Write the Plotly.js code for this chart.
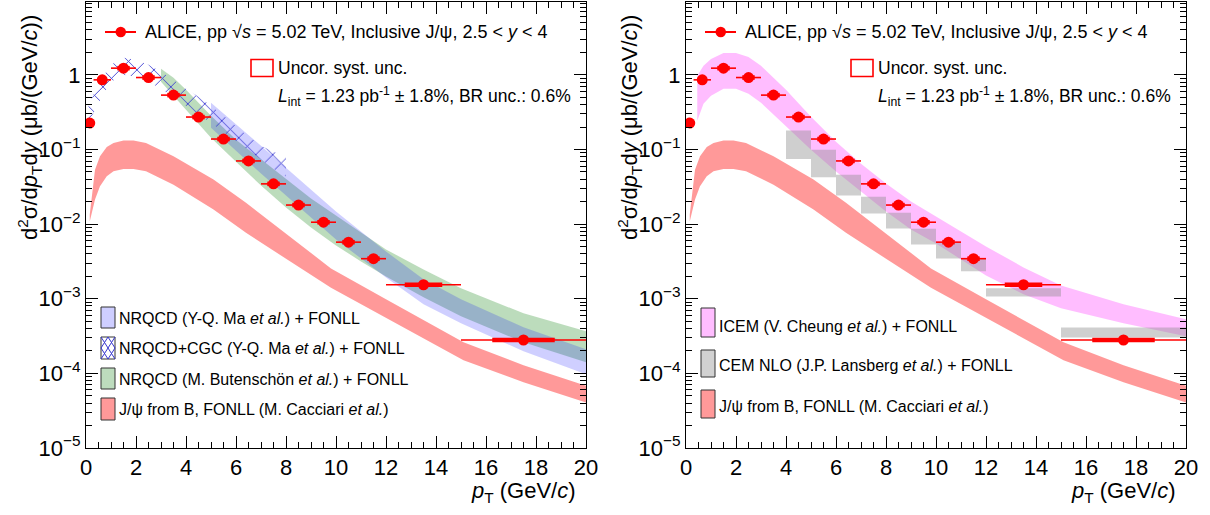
<!DOCTYPE html>
<html><head><meta charset="utf-8">
<script src="https://cdn.plot.ly/plotly-3.0.1.min.js"></script>
<style>html,body{margin:0;padding:0;background:#fff}</style>
</head><body><div id="chart" style="width:1210px;height:515px"></div>
<script>
// ---------------- data ----------------
const alicePt     = [0.15,0.65,1.5,2.5,3.5,4.5,5.5,6.5,7.5,8.5,9.5,10.5,11.5,13.5,17.5];
const aliceBinLo  = [0,0.3,1,2,3,4,5,6,7,8,9,10,11,12,15];
const aliceBinHi  = [0.3,1,2,3,4,5,6,7,8,9,10,11,12,15,20];
const aliceSigma  = [0.226,0.857,1.229,0.920,0.535,0.272,0.138,0.0702,0.0346,0.0180,0.0106,0.00573,0.00344,0.00154,0.000280];

// J/psi from B, FONLL (Cacciari)
const fonllPt = [0.15,0.36,0.56,0.83,1.1,1.5,1.9,2.4,3.5,5.1,6.4,7.8,9.8,12,15.1,17.5,20];
const fonllHi = [0.01343,0.0537,0.0809,0.108,0.122,0.132,0.132,0.122,0.0809,0.0395,0.01927,0.00847,0.00255,0.000982,0.000261,0.0001288,0.0000681];
const fonllLo = [0.01083,0.0213,0.0321,0.0437,0.0509,0.0548,0.0548,0.0509,0.0338,0.01567,0.00765,0.00380,0.001407,0.000564,0.000150,0.0000762,0.0000408];

// NRQCD (Y-Q. Ma) + FONLL
const maPt = [5,6,7,8,9,10,11,12,13.5,15,17.5,20];
const maHi = [0.422,0.221,0.1124,0.0571,0.0290,0.01473,0.00796,0.00430,0.00182,0.000982,0.000415,0.000211];
const maLo = [0.1956,0.0964,0.0475,0.0241,0.01225,0.00622,0.00347,0.00193,0.000841,0.000469,0.000198,0.0000976];

// NRQCD+CGC (Y-Q. Ma) + FONLL
const cgcPt = [0.1,0.3,0.65,1,1.5,2,2.5,3,3.5,4,4.5,5,5.5,6,6.5,7,7.5,8];
const cgcHi = [0.385,0.540,0.912,1.360,1.688,1.587,1.360,1.097,0.857,0.650,0.508,0.385,0.283,0.202,0.148,0.1124,0.0935,0.0801];
const cgcLo = [0.228,0.310,0.524,0.806,1.0,0.940,0.806,0.650,0.493,0.385,0.292,0.228,0.173,0.131,0.0994,0.0731,0.0553,0.0433];

// NRQCD (M. Butenschoen) + FONLL
const butPt = [3,3.5,4,5,6,7,8,9,10,11,12,13.5,15,17.5,20];
const butHi = [1.203,0.912,0.630,0.283,0.135,0.0731,0.0395,0.0220,0.01303,0.00772,0.00457,0.00247,0.001377,0.000638,0.000366];
const butLo = [0.806,0.524,0.340,0.144,0.0687,0.0328,0.01667,0.00901,0.00518,0.00316,0.00199,0.001045,0.000582,0.000261,0.0001412];

// ICEM (V. Cheung) + FONLL
const icemPt = [0.45,0.7,1,1.5,2,2.5,3,3.5,4,5,6,7,8,9,10,11,12,13.5,15,17.5,20];
const icemHi = [0.970,1.319,1.636,1.968,1.968,1.740,1.319,0.912,0.630,0.2745,0.1272,0.0646,0.0349,0.02005,0.01264,0.00796,0.00502,0.00263,0.00151,0.000841,0.000531];
const icemLo = [0.243,0.409,0.524,0.650,0.650,0.557,0.422,0.301,0.208,0.0994,0.0505,0.0273,0.01473,0.00847,0.00551,0.00336,0.002055,0.001145,0.000745,0.000469,0.000314];

// CEM NLO (J.P. Lansberg) + FONLL, per bin
const cemBinLo = [4,5,6,7,8,9,10,11,12,15];
const cemBinHi = [5,6,7,8,9,10,11,12,15,20];
const cemHi = [0.180,0.0994,0.0460,0.0232,0.01416,0.00865,0.00562,0.00347,0.00138,0.000411];
const cemLo = [0.0746,0.0424,0.0241,0.01386,0.00873,0.00533,0.00347,0.00234,0.00107,0.000302];

// tick labels
const yTickVals = [1e-5,1e-4,1e-3,1e-2,1e-1,1];
const yTickText = ['10<sup>\u22125</sup>','10<sup>\u22124</sup>','10<sup>\u22123</sup>','10<sup>\u22122</sup>','10<sup>\u22121</sup>','1'];
const xTickVals = [0,2,4,6,8,10,12,14,16,18,20];

// ---------------- helpers ----------------
const W = 1210, H = 515;
const FONT = 'Liberation Sans, Arial, Helvetica, sans-serif';
const px = v => v / W;
const py = v => 1 - v / H;

function band(xs, lo, hi) {
  return { x: xs.concat(xs.slice().reverse()), y: hi.concat(lo.slice().reverse()) };
}
function boxes(xlo, xhi, lo, hi) {
  const x = [], y = [];
  for (let i = 0; i < xlo.length; i++) {
    x.push(xlo[i], xhi[i], xhi[i], xlo[i], xlo[i], null);
    y.push(lo[i], lo[i], hi[i], hi[i], lo[i], null);
  }
  return { x, y };
}
function bandTrace(b, color, xa, ya, extra) {
  return Object.assign({ type:'scatter', mode:'lines', x:b.x, y:b.y, fill:'toself',
    fillcolor:color, line:{width:0, color:color}, hoverinfo:'skip', showlegend:false,
    xaxis:xa, yaxis:ya }, extra || {});
}
const halfBin = aliceBinHi.map((h,i) => (h - aliceBinLo[i]) / 2);
const systHalf = aliceBinHi.map((h,i) => (h - aliceBinLo[i]) / 4);

function aliceTraces(xa, ya) {
  return [
    { type:'scatter', mode:'markers', x:alicePt, y:aliceSigma, xaxis:xa, yaxis:ya,
      marker:{size:1, color:'rgba(255,0,0,0)'}, hoverinfo:'skip', showlegend:false,
      error_x:{type:'data', array:systHalf, symmetric:true, color:'#ff0000', thickness:4.5, width:0} },
    { type:'scatter', mode:'markers', x:alicePt, y:aliceSigma, xaxis:xa, yaxis:ya,
      marker:{size:11, color:'#ff0000'}, hoverinfo:'skip', showlegend:false,
      error_x:{type:'data', array:halfBin, symmetric:true, color:'#ff0000', thickness:1.6, width:0} }
  ];
}

const cFonll = 'rgba(255,0,0,0.4)';
const cGreen = 'rgba(34,139,34,0.3)';
const cBlue  = 'rgba(0,0,255,0.19)';
const cPink  = 'rgba(255,0,255,0.26)';
const cGray  = 'rgba(140,140,140,0.42)';

const traces = [
  bandTrace(band(fonllPt, fonllLo, fonllHi), cFonll, 'x', 'y'),
  bandTrace(band(butPt, butLo, butHi), cGreen, 'x', 'y'),
  bandTrace(band(maPt, maLo, maHi), cBlue, 'x', 'y'),
  bandTrace(band(cgcPt, cgcLo, cgcHi), 'rgba(0,0,0,0)', 'x', 'y',
    { fillpattern:{shape:'x', fgcolor:'#3535d0', bgcolor:'rgba(0,0,0,0)', size:12, solidity:0.14, fgopacity:1} }),
  ...aliceTraces('x', 'y'),
  bandTrace(band(fonllPt, fonllLo, fonllHi), cFonll, 'x2', 'y2'),
  bandTrace(band(icemPt, icemLo, icemHi), cPink, 'x2', 'y2'),
  bandTrace(boxes(cemBinLo, cemBinHi, cemLo, cemHi), cGray, 'x2', 'y2'),
  ...aliceTraces('x2', 'y2')
];

// minor tick positions
const yMinor = [];
for (let d = -5; d <= 0; d++) for (let m = 2; m <= 9; m++) yMinor.push(m * Math.pow(10, d));

function xAxis(d0, d1, anchor) {
  return { domain:[px(d0), px(d1)], anchor:anchor, range:[0,20], showline:true, linecolor:'black', linewidth:1,
    mirror:'allticks', ticks:'inside', ticklen:12, tickwidth:1, tickcolor:'black',
    tickmode:'array', tickvals:xTickVals, ticktext:xTickVals.map(String),
    tickfont:{family:FONT, size:22, color:'black'}, showgrid:false, zeroline:false,
    minor:{ticks:'inside', ticklen:6, tickwidth:1, tickcolor:'black', dtick:0.5, tick0:0, showgrid:false} };
}
function yAxis(anchor) {
  return { domain:[py(448), py(2)], anchor:anchor, type:'log', range:[-5, 0.976], showline:true, linecolor:'black', linewidth:1,
    mirror:'allticks', ticks:'inside', ticklen:12, tickwidth:1, tickcolor:'black',
    tickmode:'array', tickvals:yTickVals, ticktext:yTickText,
    tickfont:{family:FONT, size:22, color:'black'}, showgrid:false, zeroline:false,
    minor:{ticks:'inside', ticklen:6, tickwidth:1, tickcolor:'black', tickmode:'array', tickvals:yMinor, showgrid:false} };
}

const shapes = [];
const annotations = [];
function txt(x, y, text, size, anchor) {
  annotations.push({ xref:'paper', yref:'paper', x:px(x), y:py(y), text:text, showarrow:false,
    xanchor:anchor || 'left', yanchor:'middle', font:{family:FONT, size:size, color:'black'} });
}
function rect(x0, y0, x1, y1, fill, lineColor, lw) {
  shapes.push({ type:'rect', xref:'paper', yref:'paper', x0:px(x0), x1:px(x1), y0:py(y1), y1:py(y0),
    fillcolor:fill, line:{color:lineColor, width:lw} });
}
function seg(x0, y0, x1, y1, color, w) {
  shapes.push({ type:'line', xref:'paper', yref:'paper', x0:px(x0), x1:px(x1), y0:py(y0), y1:py(y1),
    line:{color:color, width:w} });
}

[0, 600].forEach(o => {
  // ALICE legend entry
  seg(105 + o, 32, 136 + o, 32, '#ff0000', 2);
  shapes.push({ type:'circle', xref:'paper', yref:'paper', x0:px(115.5 + o), x1:px(126 + o), y0:py(37.3), y1:py(26.8),
    fillcolor:'#ff0000', line:{width:0} });
  txt(143 + o, 32, 'ALICE, pp \u221A<i>s</i> = 5.02 TeV, Inclusive J/\u03C8, 2.5 &lt; <i>y</i> &lt; 4', 18);
  rect(251 + o, 59.5, 273 + o, 76.5, 'rgba(0,0,0,0)', '#ff0000', 1.6);
  txt(276 + o, 68, 'Uncor. syst. unc.', 17.5);
  txt(276 + o, 96, '<i>L</i><sub>int</sub> = 1.23 pb<sup>-1</sup> \u00B1 1.8%, BR unc.: 0.6%', 17.5);
  // axis titles
  txt(578 + o, 492, '<i>p</i><sub>T</sub> (GeV/<i>c</i>)', 22, 'right');
  annotations.push({ xref:'paper', yref:'paper', x:px(30 + o), y:py(128), textangle:-90, showarrow:false,
    xanchor:'center', yanchor:'middle',
    text:'d<sup>2</sup>\u03C3/d<i>p</i><sub>T</sub>d<i>y</i> (\u03BCb/(GeV/<i>c</i>))',
    font:{family:FONT, size:22, color:'black'} });
});

// left lower legend
rect(101, 307, 115, 328, 'rgb(206,206,255)', '#333', 1);
txt(117, 318, 'NRQCD (Y-Q. Ma <i>et al.</i>) + FONLL', 16);
rect(101, 337, 115, 359, 'white', '#333', 1);
seg(101, 337, 115, 359, '#3535d0', 1);
seg(115, 337, 101, 359, '#3535d0', 1);
seg(108, 337, 101, 348, '#3535d0', 1);
seg(108, 337, 115, 348, '#3535d0', 1);
seg(101, 348, 108, 359, '#3535d0', 1);
seg(115, 348, 108, 359, '#3535d0', 1);
txt(117, 348, 'NRQCD+CGC (Y-Q. Ma <i>et al.</i>) + FONLL', 16);
rect(101, 368, 115, 389, 'rgb(189,220,189)', '#333', 1);
txt(117, 379, 'NRQCD (M. Butensch\u00F6n <i>et al.</i>) + FONLL', 16);
rect(101, 398, 115, 420, 'rgb(255,153,153)', '#333', 1);
txt(117, 409, 'J/\u03C8 from B, FONLL (M. Cacciari <i>et al.</i>)', 16);

// right lower legend
rect(701, 308, 715, 337, 'rgb(255,189,255)', '#333', 1);
txt(717, 326, 'ICEM (V. Cheung <i>et al.</i>) + FONLL', 16);
rect(701, 350, 715, 377, 'rgb(209,209,209)', '#333', 1);
txt(717, 365, 'CEM NLO (J.P. Lansberg <i>et al.</i>) + FONLL', 16);
rect(701, 390, 715, 418, 'rgb(255,153,153)', '#333', 1);
txt(717, 406, 'J/\u03C8 from B, FONLL (M. Cacciari <i>et al.</i>)', 16);

const layout = {
  width:W, height:H, margin:{l:0, r:0, t:0, b:0}, paper_bgcolor:'white', plot_bgcolor:'white',
  showlegend:false, font:{family:FONT, color:'black'},
  xaxis: xAxis(86, 586, 'y'), yaxis: yAxis('x'),
  xaxis2: xAxis(686, 1186, 'y2'), yaxis2: yAxis('x2'),
  shapes:shapes, annotations:annotations
};
Plotly.newPlot('chart', traces, layout, {staticPlot:true, displayModeBar:false});
</script></body></html>
